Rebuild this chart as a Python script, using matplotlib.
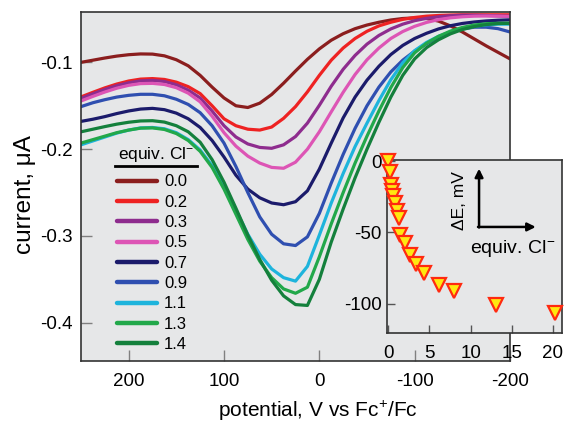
import matplotlib
matplotlib.use("Agg")
import matplotlib.pyplot as plt
from matplotlib.lines import Line2D

plt.rcParams['font.family'] = ['Liberation Sans', 'DejaVu Sans']
plt.rcParams['mathtext.fontset'] = 'custom'
plt.rcParams['mathtext.rm'] = 'Liberation Sans'
plt.rcParams['mathtext.it'] = 'Liberation Sans:italic'
plt.rcParams['mathtext.sf'] = 'Liberation Sans'

# ---------------- data ----------------
potential = [250, 237.5, 225, 212.5, 200, 187.5, 175, 162.5, 150, 137.5, 125, 112.5, 100,
             87.5, 75, 62.5, 50, 37.5, 25, 12.5, 0, -12.5, -25, -37.5, -50, -62.5, -75,
             -87.5, -100, -112.5, -125, -137.5, -150, -162.5, -175, -187.5, -200]

cur_00 = [-0.1000, -0.0975, -0.0950, -0.0928, -0.0912, -0.0903, -0.0905, -0.0925, -0.0970,
          -0.1040, -0.1150, -0.1285, -0.1410, -0.1500, -0.1520, -0.1470, -0.1370, -0.1240,
          -0.1100, -0.0965, -0.0845, -0.0745, -0.0670, -0.0612, -0.0570, -0.0538, -0.0512,
          -0.0495, -0.0488, -0.0495, -0.0525, -0.0580, -0.0650, -0.0730, -0.0810, -0.0885,
          -0.0960]
cur_02 = [-0.1398, -0.1345, -0.1294, -0.1250, -0.1215, -0.1193, -0.1187, -0.1197, -0.1228,
          -0.1280, -0.1360, -0.1500, -0.1650, -0.1730, -0.1770, -0.1780, -0.1745, -0.1645,
          -0.1510, -0.1340, -0.1150, -0.0975, -0.0835, -0.0725, -0.0642, -0.0580, -0.0538,
          -0.0505, -0.0483, -0.0468, -0.0460, -0.0455, -0.0452, -0.0452, -0.0452, -0.0452,
          -0.0452]
cur_03 = [-0.1415, -0.1362, -0.1312, -0.1268, -0.1235, -0.1213, -0.1208, -0.1220, -0.1258,
          -0.1320, -0.1410, -0.1560, -0.1730, -0.1860, -0.1940, -0.1980, -0.1990, -0.1950,
          -0.1855, -0.1700, -0.1495, -0.1275, -0.1080, -0.0920, -0.0790, -0.0690, -0.0615,
          -0.0560, -0.0520, -0.0493, -0.0475, -0.0463, -0.0457, -0.0457, -0.0460, -0.0465,
          -0.0470]
cur_05 = [-0.1445, -0.1392, -0.1342, -0.1298, -0.1265, -0.1245, -0.1242, -0.1255, -0.1292,
          -0.1355, -0.1455, -0.1620, -0.1810, -0.1965, -0.2080, -0.2160, -0.2210, -0.2220,
          -0.2150, -0.2000, -0.1800, -0.1570, -0.1345, -0.1140, -0.0970, -0.0835, -0.0725,
          -0.0645, -0.0585, -0.0540, -0.0508, -0.0487, -0.0475, -0.0468, -0.0466, -0.0467,
          -0.0470]
cur_07 = [-0.1680, -0.1655, -0.1625, -0.1590, -0.1560, -0.1538, -0.1530, -0.1545, -0.1585,
          -0.1650, -0.1750, -0.1900, -0.2090, -0.2300, -0.2460, -0.2560, -0.2620, -0.2640,
          -0.2605, -0.2480, -0.2230, -0.1930, -0.1640, -0.1400, -0.1205, -0.1045, -0.0910,
          -0.0805, -0.0725, -0.0665, -0.0615, -0.0578, -0.0552, -0.0535, -0.0523, -0.0515,
          -0.0510]
cur_09 = [-0.1510, -0.1465, -0.1430, -0.1400, -0.1380, -0.1368, -0.1368, -0.1385, -0.1425,
          -0.1485, -0.1580, -0.1730, -0.1930, -0.2200, -0.2500, -0.2780, -0.2980, -0.3090,
          -0.3110, -0.3010, -0.2740, -0.2390, -0.2060, -0.1760, -0.1500, -0.1285, -0.1110,
          -0.0975, -0.0870, -0.0785, -0.0712, -0.0655, -0.0615, -0.0595, -0.0595, -0.0612,
          -0.0650]
cur_11 = [-0.1950, -0.1905, -0.1860, -0.1815, -0.1780, -0.1755, -0.1750, -0.1765, -0.1810,
          -0.1890, -0.2010, -0.2190, -0.2420, -0.2700, -0.2980, -0.3210, -0.3380, -0.3480,
          -0.3520, -0.3350, -0.2990, -0.2620, -0.2280, -0.1970, -0.1700, -0.1440, -0.1200,
          -0.1005, -0.0865, -0.0770, -0.0700, -0.0650, -0.0612, -0.0585, -0.0568, -0.0560,
          -0.0560]
cur_13 = [-0.1930, -0.1890, -0.1850, -0.1810, -0.1780, -0.1758, -0.1755, -0.1773, -0.1820,
          -0.1900, -0.2025, -0.2210, -0.2460, -0.2750, -0.3040, -0.3290, -0.3480, -0.3610,
          -0.3660, -0.3590, -0.3240, -0.2860, -0.2500, -0.2160, -0.1850, -0.1560, -0.1290,
          -0.1060, -0.0890, -0.0780, -0.0700, -0.0640, -0.0598, -0.0570, -0.0555, -0.0550,
          -0.0550]
cur_14 = [-0.1800, -0.1770, -0.1740, -0.1712, -0.1690, -0.1675, -0.1672, -0.1688, -0.1730,
          -0.1800, -0.1920, -0.2120, -0.2380, -0.2680, -0.2990, -0.3270, -0.3510, -0.3690,
          -0.3790, -0.3800, -0.3500, -0.3070, -0.2690, -0.2330, -0.2000, -0.1690, -0.1400,
          -0.1150, -0.0960, -0.0830, -0.0740, -0.0672, -0.0622, -0.0588, -0.0565, -0.0553,
          -0.0550]

equiv_labels = ['0.0', '0.2', '0.3', '0.5', '0.7', '0.9', '1.1', '1.3', '1.4']
curves = [cur_00, cur_02, cur_03, cur_05, cur_07, cur_09, cur_11, cur_13, cur_14]
colors = ['#8B1E1E', '#EE2222', '#8E2C8E', '#DD55B5', '#1B1B6B', '#2F4FB0',
          '#1EB4DC', '#22A84A', '#14803C']

inset_equiv = [0.0, 0.16, 0.33, 0.45, 0.57, 0.77, 1.06, 1.26, 1.46, 2.07, 2.6, 3.4,
               4.3, 6.1, 8.0, 13.1, 20.2]
inset_dE = [0, -7.5, -16.7, -21, -24.6, -29.4, -35.2, -40, -51.6, -57.6, -66, -72,
            -78.5, -86.7, -90.7, -101, -106]

BG = '#E6E7E8'
W, H = 565, 424

fig = plt.figure(figsize=(W / 100, H / 100), dpi=100)
fig.patch.set_facecolor('white')

# main axes
L, R, T, B = 81, 510, 12, 361
ax = fig.add_axes([L / W, 1 - B / H, (R - L) / W, (B - T) / H])
ax.set_facecolor(BG)
for lab, c, col in zip(equiv_labels, curves, colors):
    ax.plot(potential, c, color=col, lw=2.3, label=lab, solid_capstyle='round',
            solid_joinstyle='round')
ax.set_xlim(250, -200)
ax.set_ylim(-0.444, -0.042)
ax.set_xticks([200, 100, 0, -100, -200])
ax.set_xticklabels(['200', '100', '0', '-100', '-200'])
ax.set_yticks([-0.1, -0.2, -0.3, -0.4])
ax.set_yticklabels(['-0.1', '-0.2', '-0.3', '-0.4'])
ax.tick_params(axis='both', direction='in', length=8, width=1, color='#808080',
               labelsize=13.5, top=False, right=False)
ax.tick_params(axis='x', pad=9)
ax.tick_params(axis='y', pad=6)
for s in ax.spines.values():
    s.set_color('#333333')
    s.set_linewidth(1.2)
ax.set_xlabel('potential, V vs Fc$^{+}$/Fc', fontsize=15)
ax.xaxis.set_label_coords((318 - L) / (R - L), -0.108)
ax.set_ylabel('current, \u03bcA', fontsize=17.5)
ax.yaxis.set_label_coords(-0.105, (B - 195) / (B - T))

leg = ax.legend(loc='upper left', bbox_to_anchor=((117 - L) / (R - L), (B - 174.5) / (B - T)),
                frameon=False, fontsize=12, handlelength=2.4, handletextpad=0.42,
                labelspacing=0.32, borderpad=0, borderaxespad=0)
for h in leg.legend_handles:
    h.set_linewidth(3.2)
ax.text((118 - L) / (R - L), (B - 155) / (B - T), 'equiv. Cl$^{-}$', transform=ax.transAxes,
        ha='left', va='center', fontsize=12.5)
ax.add_line(Line2D([(115 - L) / (R - L), (197 - L) / (R - L)],
                   [(B - 166) / (B - T)] * 2, transform=ax.transAxes,
                   color='black', lw=2))

# inset axes
iL, iR, iT, iB = 387, 562, 160, 333
ax2 = fig.add_axes([iL / W, 1 - iB / H, (iR - iL) / W, (iB - iT) / H])
ax2.set_facecolor(BG)
ax2.plot(inset_equiv, inset_dE, linestyle='none', marker='v', markersize=10.5,
         markerfacecolor='#FFE810', markeredgecolor='#FF2A10', markeredgewidth=1.6,
         clip_on=False, zorder=5)
ax2.set_xlim(-0.16, 21.1)
ax2.set_ylim(-120.3, 0.7)
ax2.set_xticks([0, 5, 10, 15, 20])
ax2.set_yticks([0, -50, -100])
ax2.set_yticklabels(['0', '-50', '-100'])
ax2.tick_params(axis='both', direction='in', length=6, width=1, color='#555555',
                labelsize=13.5, top=False, right=False)
ax2.tick_params(axis='x', pad=8.5)
ax2.tick_params(axis='y', pad=4)
for s in ax2.spines.values():
    s.set_color('#333333')
    s.set_linewidth(1.2)

ax2.annotate('', xy=(0.526, 0.95), xytext=(0.526, 0.61), xycoords='axes fraction',
             arrowprops=dict(arrowstyle='-|>', color='black', lw=1.8, mutation_scale=12,
                             shrinkA=0, shrinkB=0))
ax2.annotate('', xy=(0.85, 0.613), xytext=(0.52, 0.613), xycoords='axes fraction',
             arrowprops=dict(arrowstyle='-|>', color='black', lw=1.8, mutation_scale=12,
                             shrinkA=0, shrinkB=0))
ax2.text(0.415, 0.765, '\u0394E, mV', rotation=90, transform=ax2.transAxes,
         ha='center', va='center', fontsize=12.5)
ax2.text(0.72, 0.49, 'equiv. Cl$^{-}$', transform=ax2.transAxes,
         ha='center', va='center', fontsize=14)

fig.savefig('out.png', dpi=100, facecolor='white')
